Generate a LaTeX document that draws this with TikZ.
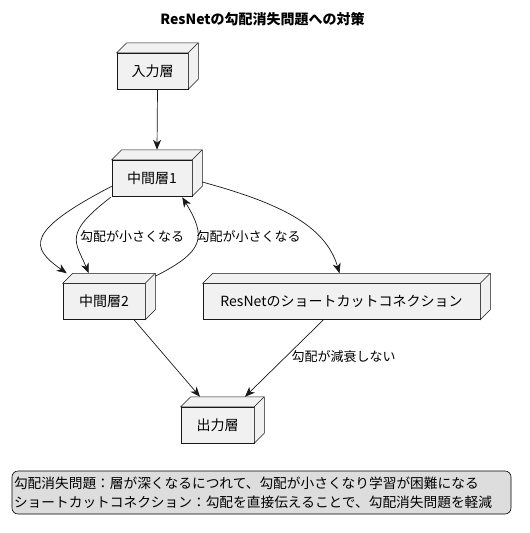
\documentclass[tikz,border=0pt]{standalone}
\usepackage{fontspec}
\setmainfont{Noto Sans CJK JP}
\usetikzlibrary{arrows.meta,calc}
\definecolor{nodefill}{HTML}{F1F1F1}
\definecolor{linec}{HTML}{181818}
\definecolor{legfill}{HTML}{DDDDDD}
\newcommand{\boxdepth}[1]{%
  \filldraw[boxline] (#1.north west) -- ++(10,-10) -- ($(#1.north east)+(10,-10)$) -- ($(#1.south east)+(10,-10)$) -- (#1.south east) -- (#1.north east) -- cycle;
  \draw[boxline] (#1.north east) -- ++(10,-10);}
\begin{document}
\begin{tikzpicture}[x=1pt,y=-1pt,
  boxline/.style={draw=linec, fill=nodefill, line width=0.5pt},
  box/.style={boxline, inner sep=0pt, minimum height=36pt, font=\fontsize{14}{16}\selectfont},
  conn/.style={draw=linec, line width=0.7pt, -{Stealth[length=10pt,width=8pt,inset=3pt]}},
  elabel/.style={font=\fontsize{13}{15}\selectfont, inner sep=1pt}]
\useasboundingbox (0,0) rectangle (530,533);
\fill[white] (0,0) rectangle (530,533);

\node[font=\bfseries\fontsize{14}{16}\selectfont] (title) at (262.5,19) {ResNetの勾配消失問題への対策};

\node[box, minimum width=71pt] (in) at (152.5,71) {入力層};
\node[box, minimum width=80pt] (m1) at (152,178) {中間層1};
\node[box, minimum width=82pt] (m2) at (104,301.5) {中間層2};
\node[box, minimum width=277pt] (r) at (341.5,301.5) {ResNetのショートカットコネクション};
\node[box, minimum width=73pt] (out) at (217.5,425) {出力層};
\boxdepth{in}\boxdepth{m1}\boxdepth{m2}\boxdepth{r}\boxdepth{out}

\draw[conn] ($(in.south)+(5,0)$) -- ($(m1.north)+(5,-10)$);
\draw[conn] ($(m1.south west)+(0,-10)$) .. controls +(-87.5,45.5) and +(-36.4,-25.5) .. ($(m2.north west)+(4,-10)$);
\draw[conn] ($(m1.south west)+(-1,1)$) .. controls +(-48,37) and +(-13.2,-31.7) .. ($(m2.north west)+(26,-10)$);
\draw[conn] ($(m2.north east)+(10,-7)$) .. controls +(48.3,-24.6) and +(25,40.6) .. ($(m1.south east)+(-10,1)$);
\draw[conn] ($(m1.east)+(10,4)$) .. controls +(77,21) and +(-14,-48) .. ($(r.north)+(-2,-10)$);
\draw[conn] ($(m2.south)+(30,0)$) -- ($(out.north)+(-17.5,-10)$);
\draw[conn] ($(r.south)+(-18,0)$) -- ($(out.north)+(27.5,-10)$);

\node[elabel] (l1) at (132,237) {勾配が小さくなる};
\node[elabel] (l2) at (248.5,237) {勾配が小さくなる};
\node[elabel] (l3) at (343.5,357) {勾配が減衰しない};

\node[draw=black, fill=legfill, rounded corners=6pt, line width=0.6pt,
  text width=495pt, inner xsep=2pt, inner ysep=0pt, minimum height=43pt, align=left,
  font=\fontsize{13.7}{19}\selectfont] (legend) at (261.5,492.5)
  {勾配消失問題：層が深くなるにつれて、勾配が小さくなり学習が困難になる\\ショートカットコネクション：勾配を直接伝えることで、勾配消失問題を軽減};
\end{tikzpicture}
\end{document}
